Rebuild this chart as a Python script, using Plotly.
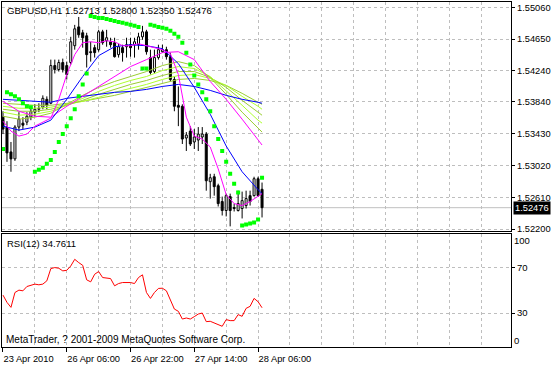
import plotly.graph_objects as go

# ---------------- data ----------------
bars = list(range(66))
opens = [1.53643,1.53515,1.53195,1.53105,1.53515,1.53566,1.53579,1.53643,1.53707,1.53745,
         1.53771,1.53873,1.53822,1.54308,1.54257,1.54347,1.54308,1.54347,1.54564,1.54807,
         1.54731,1.54692,1.54487,1.54539,1.54513,1.54743,1.54628,1.54615,1.54603,1.54449,
         1.54539,1.54551,1.54577,1.54577,1.54577,1.54679,1.54743,1.54411,1.54231,1.54411,
         1.54487,1.54513,1.54423,1.54129,1.53796,1.53783,1.53374,1.53463,1.53323,1.53348,
         1.53387,1.53425,1.52811,1.52875,1.52759,1.52555,1.52439,1.52619,1.52478,1.52439,
         1.52465,1.52503,1.52631,1.52631,1.52849,1.52713]
closes = [1.53489,1.53182,1.53105,1.53515,1.53617,1.53540,1.53655,1.53719,1.53745,1.53758,
          1.53886,1.53796,1.54308,1.54257,1.54347,1.54257,1.54193,1.54615,1.54782,1.54705,
          1.54667,1.54449,1.54475,1.54475,1.54743,1.54603,1.54667,1.54577,1.54423,1.54551,
          1.54475,1.54577,1.54539,1.54615,1.54679,1.54743,1.54487,1.54219,1.54411,1.54513,
          1.54513,1.54423,1.54129,1.53783,1.53771,1.53361,1.53412,1.53297,1.53387,1.53425,
          1.53425,1.52823,1.52862,1.52747,1.52529,1.52439,1.52631,1.52439,1.52465,1.52529,
          1.52567,1.52593,1.52555,1.52849,1.52631,1.52476]
highs = [1.53719,1.53591,1.53323,1.53540,1.53707,1.53643,1.53707,1.53771,1.53809,1.53822,
         1.53924,1.53911,1.54385,1.54385,1.54385,1.54398,1.54359,1.54679,1.54833,1.54935,
         1.54769,1.54731,1.54615,1.54577,1.54769,1.54769,1.54769,1.54667,1.54667,1.54590,
         1.54577,1.54667,1.54667,1.54667,1.54731,1.54820,1.54769,1.54513,1.54513,1.54577,
         1.54577,1.54551,1.54475,1.54167,1.54039,1.53809,1.53451,1.53527,1.53489,1.53515,
         1.53515,1.53451,1.52913,1.52913,1.52785,1.52619,1.52657,1.52657,1.52529,1.52695,
         1.52683,1.52695,1.52695,1.52875,1.52875,1.52800]
lows = [1.53425,1.53067,1.52939,1.53079,1.53463,1.53489,1.53540,1.53604,1.53655,1.53707,
        1.53745,1.53745,1.53809,1.54206,1.54231,1.54219,1.54129,1.54321,1.54513,1.54667,
        1.54539,1.54283,1.54359,1.54411,1.54487,1.54577,1.54551,1.54539,1.54411,1.54411,
        1.54359,1.54411,1.54423,1.54411,1.54513,1.54641,1.54449,1.54193,1.54206,1.54385,
        1.54475,1.54385,1.54103,1.53719,1.53527,1.53297,1.53207,1.53271,1.53233,1.53207,
        1.53297,1.52695,1.52593,1.52631,1.52491,1.52375,1.52363,1.52235,1.52427,1.52427,
        1.52337,1.52465,1.52503,1.52619,1.52619,1.52350]

sar = [1.53233,1.53963,1.53937,1.53911,1.53873,1.53822,1.53783,1.53771,1.52939,1.52964,
       1.52990,1.53041,1.53092,1.53195,1.53323,1.53425,1.53527,1.53630,1.53745,1.53911,
       1.54065,1.54206,1.54948,1.54935,1.54923,1.54923,1.54910,1.54897,1.54884,1.54871,
       1.54859,1.54846,1.54833,1.54820,1.54807,1.54270,1.54270,1.54833,1.54820,1.54807,
       1.54795,1.54782,1.54756,1.54718,1.54679,1.54603,1.54475,1.54321,1.54180,1.54065,
       1.53963,1.53873,1.53719,1.53527,1.53361,1.53207,1.53067,1.52913,1.52785,1.52670,
       1.52247,1.52260,1.52273,1.52286,1.52324,1.52862]

rsi = [45.9,39.5,35.1,48.2,50.3,49.7,53.5,54.7,55.6,55.0,
       55.6,58.5,69.3,70.2,69.6,67.3,67.8,71.6,77.5,74.6,
       72.2,59.4,57.6,64.3,66.7,61.4,60.8,60.5,54.1,56.1,
       57.0,57.0,57.0,56.1,61.4,63.8,48.2,43.0,48.2,51.8,
       52.0,49.7,40.9,33.6,31.6,24.8,25.7,24.8,26.9,29.2,
       30.1,22.5,22.8,21.3,19.9,18.4,24.3,23.4,23.4,28.7,
       27.2,34.2,36.0,43.0,40.1,34.7611]

ma_bars = [0,4,8,12,16,20,24,28,32,36,40,44,48,52,56,60,64,65]
blue_fast = [1.53527,1.53476,1.53515,1.53604,1.53873,1.54167,1.54436,1.54551,1.54577,
             1.54564,1.54526,1.54334,1.54027,1.53681,1.53271,1.52939,1.52708,1.52657]
blue_slow = [1.53873,1.53860,1.53847,1.53835,1.53886,1.53911,1.53937,1.53963,1.53975,
             1.54001,1.54039,1.54065,1.54039,1.53988,1.53924,1.53873,1.53835,1.53822]
magenta_slow = [1.53847,1.53719,1.53655,1.53643,1.53783,1.53911,1.54039,1.54167,1.54295,
                1.54385,1.54475,1.54487,1.54385,1.54103,1.53873,1.53617,1.53361,1.53284]
green1 = [1.53655,1.53617,1.53643,1.53694,1.53809,1.53924,1.54027,1.54103,1.54167,
          1.54231,1.54308,1.54359,1.54308,1.54155,1.53937,1.53707,1.53502,1.53451]
green2 = [1.53707,1.53668,1.53681,1.53719,1.53796,1.53886,1.53975,1.54052,1.54116,
          1.54167,1.54244,1.54295,1.54270,1.54167,1.53988,1.53796,1.53604,1.53566]
green3 = [1.53745,1.53719,1.53719,1.53745,1.53796,1.53860,1.53937,1.54001,1.54065,
          1.54116,1.54180,1.54231,1.54231,1.54155,1.54027,1.53860,1.53707,1.53668]
green4 = [1.53783,1.53758,1.53758,1.53771,1.53809,1.53847,1.53899,1.53963,1.54014,
          1.54065,1.54129,1.54180,1.54193,1.54142,1.54052,1.53911,1.53783,1.53745]
green5 = [1.53822,1.53809,1.53796,1.53796,1.53822,1.53847,1.53886,1.53924,1.53975,
          1.54027,1.54078,1.54129,1.54142,1.54116,1.54052,1.53950,1.53835,1.53809]

fast_bars = list(range(0, 65, 2)) + [65]
magenta_fast = [1.53591,1.53463,1.53399,1.53425,1.53527,1.53579,1.53630,1.53873,1.54193,1.54449,
                1.54603,1.54615,1.54603,1.54628,1.54615,1.54564,1.54564,1.54590,1.54564,1.54539,
                1.54513,1.54462,1.54193,1.53643,1.53399,1.53361,1.53259,1.52977,1.52644,1.52529,
                1.52503,1.52555,1.52631,1.52657]

price_ticks = [1.55060, 1.54650, 1.54240, 1.53840, 1.53430, 1.53020, 1.52610, 1.52200]
price_labels = ["1.55060", "1.54650", "1.54240", "1.53840", "1.53430", "1.53020", "1.52610", "1.52200"]
time_ticks = [0, 16, 32, 48, 64]
time_labels = ["23 Apr 2010", "26 Apr 06:00", "26 Apr 22:00", "27 Apr 14:00", "28 Apr 06:00"]
grid_bars = list(range(8, 128, 8))
rsi_levels = [30, 70]
header = "GBPUSD,H1 1.52713 1.52800 1.52350 1.52476"
rsi_title = "RSI(12) 34.7611"
copyright_txt = "MetaTrader, ? 2001-2009 MetaQuotes Software Corp."

# ---------------- figure ----------------
W, H = 551, 367
FONT = "Liberation Sans"
GRID = "#BEBEBE"
XR = [-0.25, 127.5]

fig = go.Figure()

# wicks (split so they do not cross the white bodies)
wx, wy = [], []
for i, o, h, l, c in zip(bars, opens, highs, lows, closes):
    top, bot = max(o, c), min(o, c)
    wx += [i, i, None, i, i, None]
    wy += [h, top, None, bot, l, None]
fig.add_trace(go.Scatter(x=wx, y=wy, mode="lines", line=dict(color="black", width=1),
                         hoverinfo="skip", xaxis="x", yaxis="y"))

up = [i for i in bars if closes[i] >= opens[i]]
dn = [i for i in bars if closes[i] < opens[i]]
fig.add_trace(go.Bar(x=up, base=[opens[i] for i in up], y=[closes[i] - opens[i] for i in up],
                     width=0.5, marker=dict(color="white", line=dict(color="black", width=1)),
                     xaxis="x", yaxis="y"))
fig.add_trace(go.Bar(x=dn, base=[closes[i] for i in dn], y=[opens[i] - closes[i] for i in dn],
                     width=0.5, marker=dict(color="black", line=dict(color="black", width=1)),
                     xaxis="x", yaxis="y"))

# moving averages
for ys, col in [(green5, "#9ACD32"), (green4, "#ADFF2F"), (green3, "#9ACD32"),
                (green2, "#ADFF2F"), (green1, "#9ACD32")]:
    fig.add_trace(go.Scatter(x=ma_bars, y=ys, mode="lines", line=dict(color=col, width=1),
                             xaxis="x", yaxis="y"))
fig.add_trace(go.Scatter(x=ma_bars, y=blue_slow, mode="lines", line=dict(color="#0000FF", width=1),
                         xaxis="x", yaxis="y"))
fig.add_trace(go.Scatter(x=ma_bars, y=magenta_slow, mode="lines", line=dict(color="#FF00FF", width=1),
                         xaxis="x", yaxis="y"))
fig.add_trace(go.Scatter(x=ma_bars, y=blue_fast, mode="lines", line=dict(color="#0000FF", width=1),
                         xaxis="x", yaxis="y"))
fig.add_trace(go.Scatter(x=fast_bars, y=magenta_fast, mode="lines", line=dict(color="#FF00FF", width=1),
                         xaxis="x", yaxis="y"))

# parabolic SAR
fig.add_trace(go.Scatter(x=bars, y=sar, mode="markers",
                         marker=dict(symbol="square", size=4, color="#00FF00", line=dict(width=0)),
                         xaxis="x", yaxis="y"))

# RSI
fig.add_trace(go.Scatter(x=bars, y=rsi, mode="lines", line=dict(color="#FF0000", width=1),
                         xaxis="x2", yaxis="y2"))
# empty trace so that the time-axis (tick marks + labels) is rendered
fig.add_trace(go.Scatter(x=[], y=[], mode="lines", xaxis="x3", yaxis="y2"))

# current price line
fig.add_shape(type="line", xref="x domain", yref="y", x0=0, x1=1, y0=closes[-1], y1=closes[-1],
              line=dict(color="#C0C0C0", width=1), layer="below")

dom_x = [2 / W, 513 / W]
dom_main = [1 - 233 / H, 1 - 2 / H]
dom_rsi = [1 - 350 / H, 1 - 235.5 / H]

axis_common = dict(showline=True, mirror=True, linecolor="black", linewidth=1, zeroline=False,
                   fixedrange=True)
grid_common = dict(showgrid=True, gridcolor=GRID, gridwidth=1, griddash="3px,3px")

fig.update_layout(
    width=W, height=H, autosize=False,
    margin=dict(l=0, r=0, t=0, b=0, pad=0),
    paper_bgcolor="white", plot_bgcolor="white",
    showlegend=False, hovermode=False, barmode="overlay",
    font=dict(family=FONT, size=10, color="black"),
    xaxis=dict(domain=dom_x, range=XR, anchor="y", tickmode="array", tickvals=grid_bars,
               showticklabels=False, ticks="", **grid_common, **axis_common),
    yaxis=dict(domain=dom_main, range=[1.52174, 1.55128], anchor="x", side="right",
               tickmode="array", tickvals=price_ticks, ticktext=price_labels,
               ticks="outside", ticklen=3, tickcolor="black",
               tickfont=dict(family=FONT, size=9.3, color="black"),
               **grid_common, **axis_common),
    xaxis2=dict(domain=dom_x, range=XR, anchor="y2", tickmode="array", tickvals=grid_bars,
                showticklabels=False, ticks="", **grid_common, **axis_common),
    yaxis2=dict(domain=dom_rsi, range=[0, 100.2], anchor="x2", side="right",
                tickmode="array", tickvals=rsi_levels, ticktext=[str(v) for v in rsi_levels],
                ticks="outside", ticklen=3, tickcolor="black",
                tickfont=dict(family=FONT, size=9.5, color="black"),
                **grid_common, **axis_common),
    xaxis3=dict(overlaying="x2", anchor="y2", side="bottom", range=XR, tickmode="array",
                tickvals=time_ticks, ticktext=time_labels, ticks="outside", ticklen=4,
                tickcolor="black", showgrid=False, showline=False, zeroline=False,
                ticklabelposition="outside right", ticklabelstandoff=3, fixedrange=True,
                tickfont=dict(family=FONT, size=9.3, color="black")),
)

ann = []
ann.append(dict(text=header, xref="paper", yref="paper", x=5 / W, y=1 - 10.5 / H,
                xanchor="left", yanchor="middle", showarrow=False,
                font=dict(family=FONT, size=9.6, color="black")))
ann.append(dict(text=rsi_title, xref="paper", yref="paper", x=5 / W, y=1 - 246 / H,
                xanchor="left", yanchor="middle", showarrow=False,
                font=dict(family=FONT, size=9.5, color="black")))
ann.append(dict(text=copyright_txt, xref="paper", yref="paper", x=4 / W, y=1 - 342 / H,
                xanchor="left", yanchor="middle", showarrow=False,
                font=dict(family=FONT, size=10, color="black")))
ann.append(dict(text="100", xref="paper", yref="paper", x=514 / W, y=1 - 242 / H,
                xanchor="left", yanchor="middle", showarrow=False,
                font=dict(family=FONT, size=9.5, color="black")))
ann.append(dict(text="0", xref="paper", yref="paper", x=514 / W, y=1 - 343 / H,
                xanchor="left", yanchor="middle", showarrow=False,
                font=dict(family=FONT, size=9.5, color="black")))
ann.append(dict(text=f"{closes[-1]:.5f}", xref="paper", yref="y", x=515 / W, y=closes[-1],
                xanchor="left", yanchor="middle", showarrow=False, bgcolor="black",
                borderpad=1, font=dict(family=FONT, size=9.3, color="white")))
fig.update_layout(annotations=ann)

fig.write_html("out.html", config={"displayModeBar": False},
               post_script="document.body.style.margin='0';")
